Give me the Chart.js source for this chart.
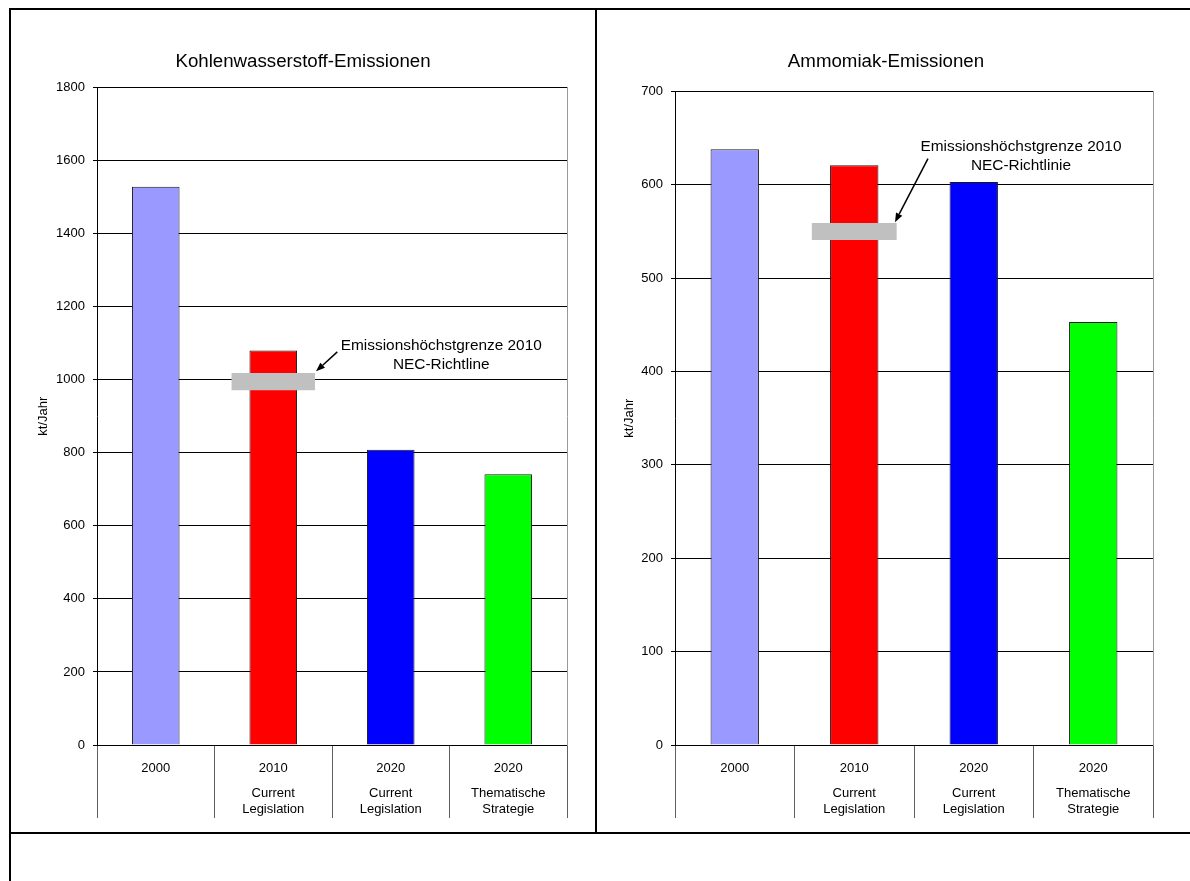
<!DOCTYPE html>
<html>
<head>
<meta charset="utf-8">
<script src="https://cdn.jsdelivr.net/npm/chart.js@4.4.0/dist/chart.umd.min.js"></script>
<style>
  html, body { margin: 0; padding: 0; background: #fff; width: 1190px; height: 881px; overflow: hidden; }
  .line { position: absolute; background: #000; }
  canvas { position: absolute; }
</style>
</head>
<body>
<div class="line" style="left:9px;top:8px;width:1181px;height:2px"></div>
<div class="line" style="left:9px;top:8px;width:2px;height:873px"></div>
<div class="line" style="left:595px;top:8px;width:2px;height:826px"></div>
<div class="line" style="left:9px;top:832px;width:1181px;height:2px"></div>
<canvas id="c1" width="584" height="822" style="left:11px;top:10px"></canvas>
<canvas id="c2" width="578" height="822" style="left:597px;top:10px"></canvas>
<script>
// ---- data ----
const categories = ['2000', '2010', '2020', '2020'];
const subLabels = ['', ['Current', 'Legislation'], ['Current', 'Legislation'], ['Thematische', 'Strategie']];
const barColors = ['#9999FF', '#FF0000', '#0000FF', '#00FF00'];

const hcTitle = 'Kohlenwasserstoff-Emissionen';
const hcValues = [1528, 1080, 808, 741];
const hcLimit = [null, [971, 1018], null, null];
const hcAxisMax = 1800;
const hcAxisStep = 200;
const hcNote = ['Emissionshöchstgrenze 2010', 'NEC-Richtline'];

const nh3Title = 'Ammomiak-Emissionen';
const nh3Values = [638, 621, 603, 453];
const nh3Limit = [null, [541, 559], null, null];
const nh3AxisMax = 700;
const nh3AxisStep = 100;
const nh3Note = ['Emissionshöchstgrenze 2010', 'NEC-Richtlinie'];

const yTitle = 'kt/Jahr';

// ---- chart builder ----
const FONT = '"Liberation Sans", Arial, sans-serif';

const notePlugin = {
  id: 'note',
  afterDatasetsDraw(chart) {
    const n = chart.options.plugins.note;
    if (!n) return;
    const xs = chart.scales.x, ys = chart.scales.y, ctx = chart.ctx;
    ctx.save();
    ctx.fillStyle = '#000';
    ctx.font = n.fontSize + 'px ' + FONT;
    ctx.textAlign = 'center';
    ctx.textBaseline = 'middle';
    const tx = xs.getPixelForValue(n.textAt[0]);
    const ty = ys.getPixelForValue(n.textAt[1]);
    n.lines.forEach((l, i) => ctx.fillText(l, tx, ty + i * n.lineGap));
    const x1 = xs.getPixelForValue(n.tail[0]), y1 = ys.getPixelForValue(n.tail[1]);
    const x2 = xs.getPixelForValue(n.tip[0]), y2 = ys.getPixelForValue(n.tip[1]);
    const ang = Math.atan2(y2 - y1, x2 - x1);
    const hl = 9, hw = 3.5;
    const bx = x2 - hl * Math.cos(ang), by = y2 - hl * Math.sin(ang);
    ctx.strokeStyle = '#000';
    ctx.lineWidth = 1.5;
    ctx.beginPath();
    ctx.moveTo(x1, y1);
    ctx.lineTo(bx, by);
    ctx.stroke();
    ctx.beginPath();
    ctx.moveTo(x2, y2);
    ctx.lineTo(bx + hw * Math.sin(ang), by - hw * Math.cos(ang));
    ctx.lineTo(bx - hw * Math.sin(ang), by + hw * Math.cos(ang));
    ctx.closePath();
    ctx.fill();
    ctx.restore();
  }
};

function makeChart(id, o) {
  const tickFont = { family: FONT, size: 13 };
  new Chart(document.getElementById(id), {
    type: 'bar',
    data: {
      labels: categories,
      datasets: [
        {
          data: o.limit,
          backgroundColor: '#C0C0C0',
          borderWidth: 0,
          barPercentage: 0.71,
          categoryPercentage: 1,
          grouped: false,
          order: 0
        },
        {
          data: o.values,
          backgroundColor: barColors,
          borderColor: '#1a1a1a',
          borderWidth: 1,
          barPercentage: 0.405,
          categoryPercentage: 1,
          grouped: false,
          order: 1
        }
      ]
    },
    options: {
      responsive: false,
      animation: false,
      devicePixelRatio: 1,
      layout: { padding: 0 },
      plugins: {
        legend: { display: false },
        tooltip: { enabled: false },
        title: {
          display: true,
          text: o.title,
          color: '#000',
          font: { family: FONT, size: 18.7, weight: 'normal' },
          padding: { top: o.titleTop, bottom: o.titleBottom }
        },
        note: o.note
      },
      scales: {
        x: {
          offset: true,
          grid: { display: true, drawOnChartArea: false, drawTicks: true, tickLength: 73, color: '#606060', offset: true },
          border: { display: true, color: '#000' },
          ticks: { color: '#000', font: tickFont, padding: -57, maxRotation: 0 },
          afterFit(s) { s.height = 35; }
        },
        x2: {
          type: 'category',
          position: 'bottom',
          labels: subLabels,
          offset: true,
          grid: { display: false, drawTicks: false },
          border: { display: false },
          ticks: { color: '#000', font: { family: FONT, size: 13, lineHeight: 1.23 }, padding: 5, maxRotation: 0 },
          afterFit(s) { s.height = 52; }
        },
        y: {
          min: 0,
          max: o.max,
          ticks: { stepSize: o.step, color: '#000', font: tickFont, padding: 8, callback: (v) => String(v) },
          grid: { color: '#000', tickLength: 4, drawTicks: true },
          border: { display: true, color: '#000' },
          title: { display: true, text: yTitle, color: '#000', font: { family: FONT, size: 13 }, padding: { top: 25, bottom: 0 } },
          afterFit(s) { s.width = o.yWidth; }
        },
        yR: {
          type: 'linear',
          position: 'right',
          min: 0,
          max: o.max,
          ticks: { display: false },
          grid: { display: false, drawTicks: false },
          border: { display: true, color: '#999' },
          afterFit(s) { s.width = o.rWidth; }
        }
      }
    },
    plugins: [notePlugin]
  });
}

makeChart('c1', {
  title: hcTitle, values: hcValues, limit: hcLimit, max: hcAxisMax, step: hcAxisStep,
  titleTop: 41, titleBottom: 14, yWidth: 86, rWidth: 28,
  note: { lines: hcNote, fontSize: 15.4, lineGap: 18.6, textAt: [2.43, 1092], tail: [1.545, 1076], tip: [1.364, 1023] }
});

makeChart('c2', {
  title: nh3Title, values: nh3Values, limit: nh3Limit, max: nh3AxisMax, step: nh3AxisStep,
  titleTop: 41, titleBottom: 18, yWidth: 78, rWidth: 22,
  note: { lines: nh3Note, fontSize: 15.4, lineGap: 19, textAt: [2.395, 641], tail: [1.617, 628], tip: [1.341, 560] }
});
</script>
</body>
</html>
